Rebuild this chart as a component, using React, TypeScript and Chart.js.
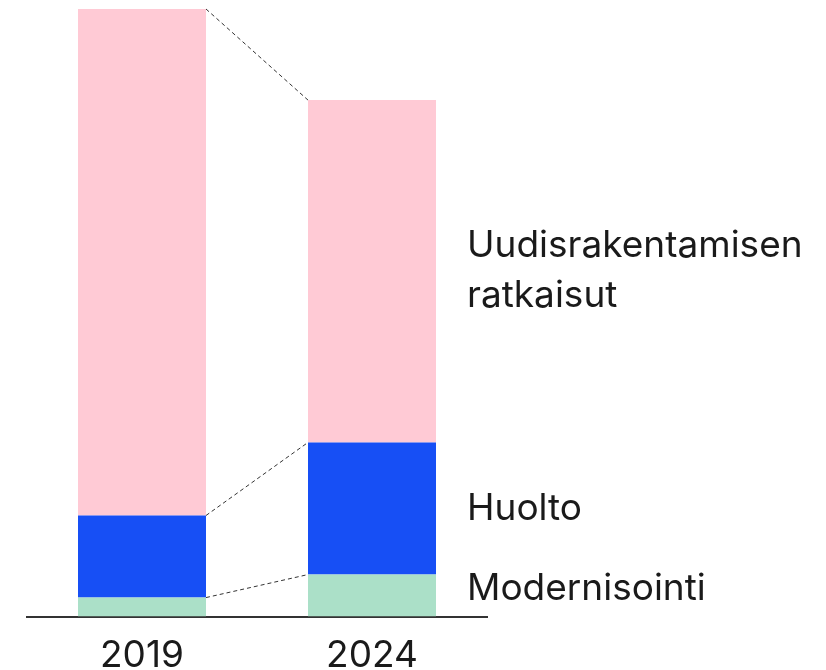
import React, { useEffect, useRef } from "react";
import { Chart, registerables } from "chart.js";

Chart.register(...registerables);

const categories = ["2019", "2024"];
const modernisointi = [19, 42];
const huolto = [82, 132];
const uudisrakentaminen = [506, 342];
const seriesLabels = ["Modernisointi", "Huolto", "Uudisrakentamisen ratkaisut"];
const yMax = 607;

const FONT = "Inter, 'Noto Sans', sans-serif";

const connectorPlugin = {
  id: "connectors",
  afterDatasetsDraw(chart: any) {
    const ctx = chart.ctx;
    ctx.save();
    ctx.strokeStyle = "#333333";
    ctx.lineWidth = 1;
    ctx.setLineDash([4, 3]);
    chart.data.datasets.forEach((_: any, i: number) => {
      const meta = chart.getDatasetMeta(i);
      const a = meta.data[0] as any;
      const b = meta.data[1] as any;
      if (!a || !b) return;
      ctx.beginPath();
      ctx.moveTo(a.x + a.width / 2, a.y);
      ctx.lineTo(b.x - b.width / 2, b.y);
      ctx.stroke();
    });
    ctx.restore();

    // series labels to the right of the last bar
    ctx.save();
    ctx.fillStyle = "#1a1a1a";
    ctx.font = `37px ${FONT}`;
    ctx.textBaseline = "middle";
    ctx.textAlign = "left";
    const offsets = [-7, 0, 0];
    chart.data.datasets.forEach((ds: any, i: number) => {
      const meta = chart.getDatasetMeta(i);
      const el = meta.data[meta.data.length - 1] as any;
      const mid = (el.y + el.base) / 2 + offsets[i];
      const x = el.x + el.width / 2 + 31;
      const lines = String(ds.label).split(" ");
      const lh = 50;
      lines.forEach((ln: string, k: number) => {
        ctx.fillText(ln, x, mid + (k - (lines.length - 1) / 2) * lh);
      });
    });
    ctx.restore();
  },
};

export default function App() {
  const ref = useRef<HTMLCanvasElement>(null);
  useEffect(() => {
    if (!ref.current) return;
    const chart = new Chart(ref.current, {
      type: "bar",
      data: {
        labels: categories,
        datasets: [
          { label: seriesLabels[0], data: modernisointi, backgroundColor: "#ABE0C8" },
          { label: seriesLabels[1], data: huolto, backgroundColor: "#174FF5" },
          { label: seriesLabels[2], data: uudisrakentaminen, backgroundColor: "#FFCAD5" },
        ],
      },
      options: {
        animation: false,
        responsive: true,
        maintainAspectRatio: false,
        layout: { padding: { left: 19, right: 331, top: 1, bottom: 0 } },
        plugins: { legend: { display: false }, tooltip: { enabled: false } },
        datasets: { bar: { categoryPercentage: 1, barPercentage: 128 / 230, borderWidth: 0 } },
        scales: {
          x: {
            stacked: true,
            grid: { display: false, drawTicks: false },
            border: { display: true, color: "#333333", width: 2 },
            ticks: { color: "#1a1a1a", font: { family: FONT, size: 37 }, padding: 17 },
          },
          y: { stacked: true, display: false, min: 0, max: yMax },
        },
      },
      plugins: [connectorPlugin],
    });
    return () => chart.destroy();
  }, []);
  return (
    <div style={{ width: 810, height: 687, position: "relative" }}>
      <canvas ref={ref} style={{ display: "block" }} />
    </div>
  );
}
